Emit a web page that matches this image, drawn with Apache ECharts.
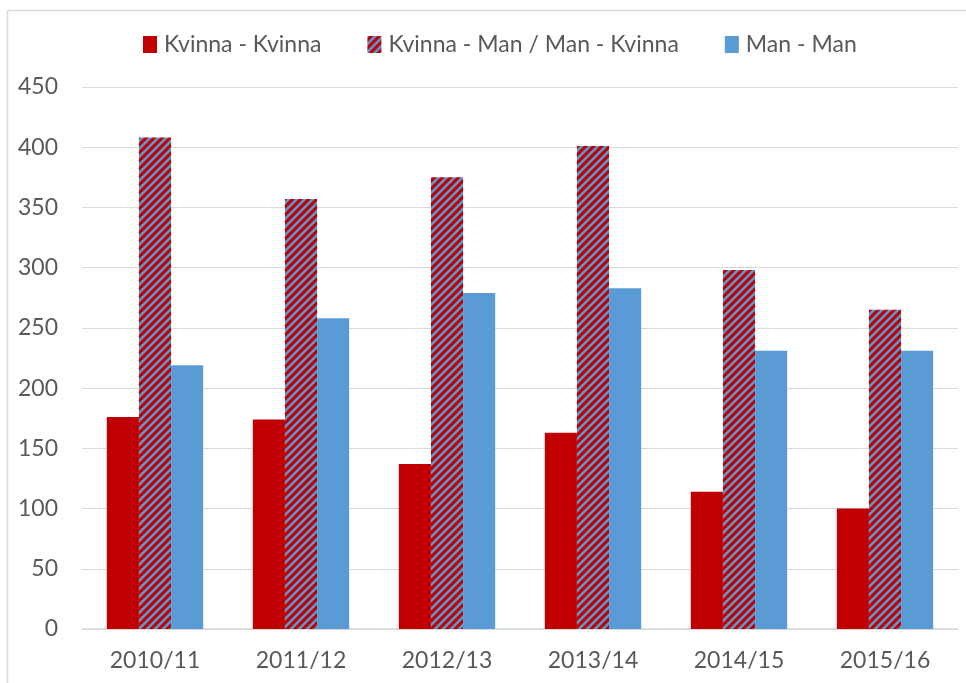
<!DOCTYPE html>
<html>
<head>
<meta charset="utf-8">
<script src="https://cdn.jsdelivr.net/npm/echarts@6/dist/echarts.min.js"></script>
<style>
  html, body { margin: 0; padding: 0; background: #fff; }
  #main { width: 966px; height: 683px; }
</style>
</head>
<body>
<div id="main"></div>
<script>
// data
var years = ['2010/11', '2011/12', '2012/13', '2013/14', '2014/15', '2015/16'];
var kvinnaKvinna = [176, 174, 137, 163, 114, 100];
var blandat = [408, 357, 375, 401, 298, 265];
var manMan = [219, 258, 279, 283, 231, 231];

var RED = '#C00000';
var BLUE = '#5B9BD5';
var TEXT = '#595959';

// red with blue "/" stripes
function hatch() {
  var s = 8;
  var c = document.createElement('canvas');
  c.width = s; c.height = s;
  var g = c.getContext('2d');
  g.fillStyle = RED;
  g.fillRect(0, 0, s, s);
  g.strokeStyle = BLUE;
  g.lineWidth = 2.6;
  g.beginPath();
  g.moveTo(-1, s + 1); g.lineTo(s + 1, -1);
  g.moveTo(-s / 2 - 1, s / 2 + 1); g.lineTo(s / 2 + 1, -s / 2 - 1);
  g.moveTo(s / 2 - 1, s * 1.5 + 1); g.lineTo(s * 1.5 + 1, s / 2 - 1);
  g.stroke();
  return { image: c, repeat: 'repeat' };
}

var myChart = echarts.init(document.getElementById('main'));
myChart.setOption({
  animation: false,
  textStyle: { fontFamily: 'Lato' },
  graphic: [{
    type: 'rect', left: 5, top: 8,
    shape: { width: 1000, height: 1000 },
    style: { fill: 'none', stroke: '#d9d9d9', lineWidth: 1.5 }
  }],
  legend: {
    top: 28, left: 138,
    icon: 'rect',
    itemWidth: 14, itemHeight: 17, itemGap: 46,
    textStyle: { fontSize: 23, color: TEXT, padding: [0, 0, 0, 2] },
    data: ['Kvinna - Kvinna', 'Kvinna - Man / Man - Kvinna', 'Man - Man']
  },
  grid: { left: 82, right: 8, top: 87, bottom: 54, containLabel: false },
  xAxis: {
    type: 'category', data: years,
    axisLine: { lineStyle: { color: '#d9d9d9', width: 1.5 } },
    axisTick: { show: false },
    axisLabel: { fontSize: 23, color: TEXT, margin: 20 }
  },
  yAxis: {
    type: 'value', min: 0, max: 450, interval: 50,
    axisLine: { show: false }, axisTick: { show: false },
    splitLine: { lineStyle: { color: '#d9d9d9', width: 1 } },
    axisLabel: { fontSize: 23, color: TEXT, margin: 24 }
  },
  series: [
    { name: 'Kvinna - Kvinna', type: 'bar', data: kvinnaKvinna, barGap: '0%', barCategoryGap: '34%', itemStyle: { color: RED } },
    { name: 'Kvinna - Man / Man - Kvinna', type: 'bar', data: blandat, itemStyle: { color: hatch() } },
    { name: 'Man - Man', type: 'bar', data: manMan, itemStyle: { color: BLUE } }
  ]
});
</script>
</body>
</html>
